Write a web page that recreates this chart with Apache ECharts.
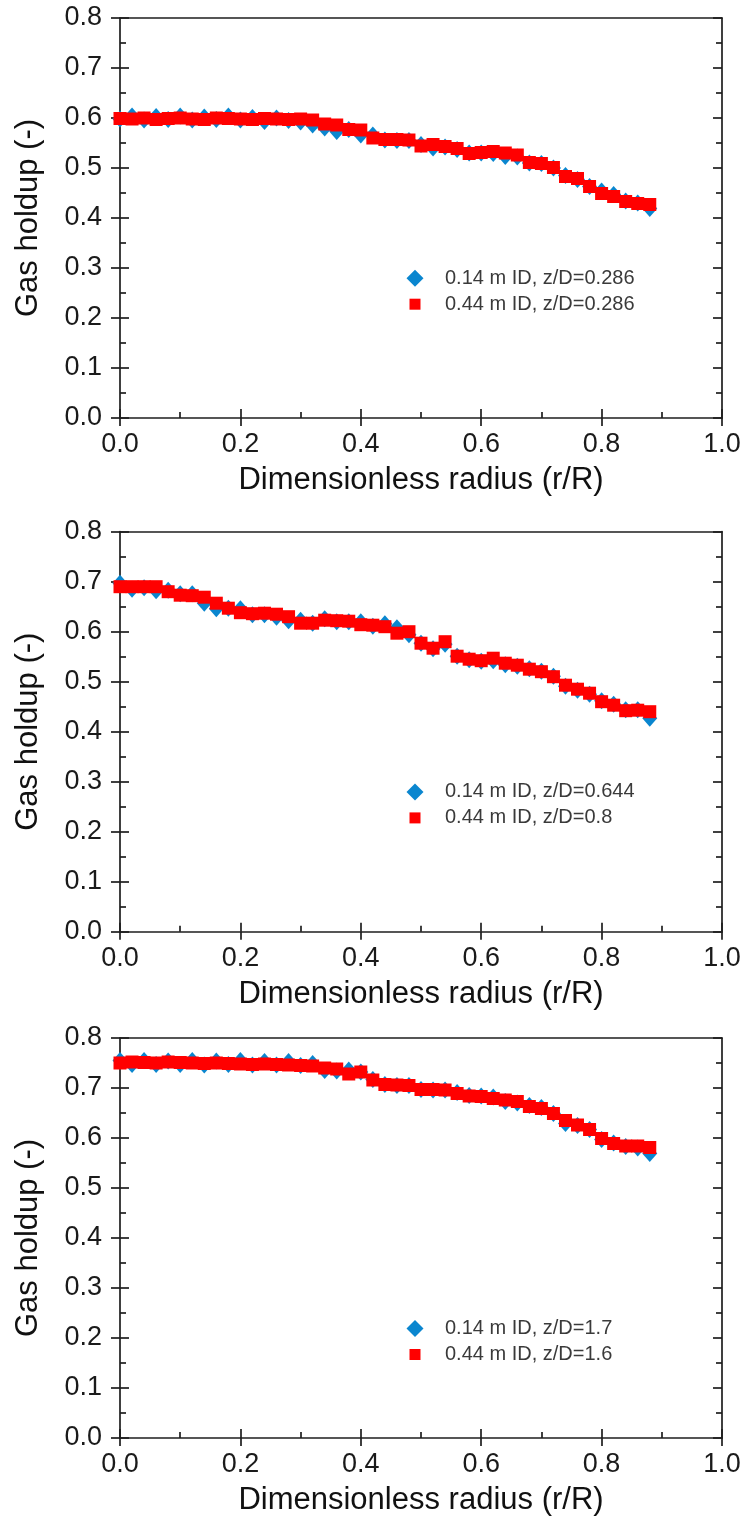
<!DOCTYPE html>
<html>
<head>
<meta charset="utf-8">
<script src="https://cdn.jsdelivr.net/npm/echarts@6/dist/echarts.min.js"></script>
<style>
html,body{margin:0;padding:0;background:#fff;}
#chart{width:744px;height:1523px;}
</style>
</head>
<body>
<div id="chart"></div>
<script>
// ---- Data ----
const radius = [0.00,0.02,0.04,0.06,0.08,0.10,0.12,0.14,0.16,0.18,0.20,0.22,0.24,0.26,0.28,0.30,0.32,0.34,0.36,0.38,0.40,0.42,0.44,0.46,0.48,0.50,0.52,0.54,0.56,0.58,0.60,0.62,0.64,0.66,0.68,0.70,0.72,0.74,0.76,0.78,0.80,0.82,0.84,0.86,0.88];

const xTicks = ['0.0','0.2','0.4','0.6','0.8','1.0'];
const yTicks = ['0.0','0.1','0.2','0.3','0.4','0.5','0.6','0.7','0.8'];

const panel1Names = ['0.14 m ID, z/D=0.286', '0.44 m ID, z/D=0.286'];
const panel2Names = ['0.14 m ID, z/D=0.644', '0.44 m ID, z/D=0.8'];
const panel3Names = ['0.14 m ID, z/D=1.7', '0.44 m ID, z/D=1.6'];

const panel1Blue = [.598,.604,.596,.603,.597,.604,.596,.602,.597,.604,
  .596,.601,.593,.600,.595,.592,.586,.580,.573,.577,
  .566,.566,.556,.555,.555,.547,.540,.542,.537,.530,
  .530,.529,.523,.522,.510,.509,.500,.485,.477,.463,
  .454,.447,.434,.430,.419];
const panel1Red = [.599,.598,.600,.597,.599,.600,.598,.597,.600,.599,
  .598,.597,.599,.598,.597,.598,.596,.588,.586,.577,
  .576,.560,.557,.557,.556,.544,.547,.543,.539,.529,
  .531,.533,.530,.526,.511,.509,.501,.483,.479,.463,
  .449,.443,.433,.429,.427];

const panel2Blue = [.697,.685,.688,.682,.683,.676,.676,.657,.646,.647,
  .646,.634,.634,.629,.622,.623,.617,.626,.620,.620,
  .620,.611,.616,.608,.594,.577,.566,.575,.551,.544,
  .541,.542,.534,.531,.526,.521,.511,.491,.483,.475,
  .462,.455,.444,.444,.427];
const panel2Red = [.690,.690,.690,.690,.680,.673,.672,.669,.657,.647,
  .638,.636,.637,.635,.630,.617,.617,.623,.622,.621,
  .614,.613,.610,.597,.600,.577,.567,.580,.551,.545,
  .542,.547,.537,.533,.525,.520,.510,.493,.485,.477,
  .460,.453,.442,.443,.440];

const panel3Blue = [.755,.747,.755,.747,.754,.747,.755,.746,.754,.747,
  .755,.746,.753,.746,.753,.745,.749,.735,.734,.736,
  .732,.717,.707,.705,.705,.697,.696,.696,.691,.685,
  .684,.682,.673,.670,.665,.661,.649,.629,.625,.617,
  .597,.590,.583,.580,.569];
const panel3Red = [.750,.752,.751,.750,.752,.751,.750,.749,.750,.749,
  .748,.747,.748,.747,.746,.745,.744,.740,.738,.728,
  .732,.716,.707,.706,.705,.697,.697,.696,.689,.684,
  .683,.679,.676,.673,.663,.659,.649,.635,.626,.617,
  .599,.589,.584,.584,.581];

const panels = [
  {names: panel1Names, blue: panel1Blue, red: panel1Red},
  {names: panel2Names, blue: panel2Blue, red: panel2Red},
  {names: panel3Names, blue: panel3Blue, red: panel3Red}
];

// ---- Layout / style ----
const gridTops = [18, 531.7, 1038];
const legendCenters = [276.7, 790.4, 1327];
const FONT = "'Liberation Sans', Arial, sans-serif";
const AX = '#1e1e1e';
const BLUE = '#0a86cf';
const RED = '#ff0000';

const chart = echarts.init(document.getElementById('chart'), null, {renderer: 'canvas'});

const grid = [], xAxis = [], yAxis = [], series = [], legend = [];
const lineStyle = {color: AX, width: 1.7};

panels.forEach((p, g) => {
  grid.push({left: 120, top: gridTops[g], width: 602, height: 400, containLabel: false});
  const xBase = {gridIndex: g, type: 'value', min: 0, max: 1, interval: 0.2, splitLine: {show: false}};
  const yBase = {gridIndex: g, type: 'value', min: 0, max: 0.8, interval: 0.1, splitLine: {show: false}};
  xAxis.push(Object.assign({}, xBase, {
    position: 'bottom',
    axisLine: {show: true, onZero: false, lineStyle},
    axisTick: {show: true, inside: false, length: 8, lineStyle},
    axisLabel: {show: true, margin: 13, fontSize: 27, color: '#1a1a1a', fontFamily: FONT,
      formatter: v => xTicks[Math.round(v / 0.2)]},
    name: 'Dimensionless radius (r/R)', nameLocation: 'middle', nameGap: 47,
    nameTextStyle: {fontSize: 31, color: '#111', fontFamily: FONT}
  }));
  xAxis.push(Object.assign({}, xBase, {
    position: 'bottom',
    axisLine: {show: false, onZero: false},
    axisTick: {show: true, inside: true, length: 9, lineStyle},
    minorTick: {show: true, splitNumber: 2, length: 6, lineStyle},
    axisLabel: {show: false}
  }));
  xAxis.push(Object.assign({}, xBase, {
    position: 'top',
    axisLine: {show: true, onZero: false, lineStyle},
    axisTick: {show: false},
    axisLabel: {show: false}
  }));
  yAxis.push(Object.assign({}, yBase, {
    position: 'left',
    axisLine: {show: true, onZero: false, lineStyle},
    axisTick: {show: true, inside: false, length: 9, lineStyle},
    axisLabel: {show: true, margin: 18, fontSize: 27, color: '#1a1a1a', fontFamily: FONT,
      formatter: v => yTicks[Math.round(v / 0.1)]},
    name: 'Gas holdup (-)', nameLocation: 'middle', nameGap: 76,
    nameTextStyle: {fontSize: 31, color: '#111', fontFamily: FONT}
  }));
  yAxis.push(Object.assign({}, yBase, {
    position: 'left',
    axisLine: {show: false, onZero: false},
    axisTick: {show: true, inside: true, length: 9, lineStyle},
    minorTick: {show: true, splitNumber: 2, length: 6, lineStyle},
    axisLabel: {show: false}
  }));
  yAxis.push(Object.assign({}, yBase, {
    position: 'right',
    axisLine: {show: true, onZero: false, lineStyle},
    axisTick: {show: true, inside: true, length: 9, lineStyle},
    minorTick: {show: true, splitNumber: 2, length: 6, lineStyle},
    axisLabel: {show: false}
  }));

  series.push({
    name: p.names[0], type: 'scatter', xAxisIndex: 3 * g, yAxisIndex: 3 * g,
    symbol: 'diamond', symbolSize: [15, 17],
    itemStyle: {color: BLUE, opacity: 1}, z: 2, silent: true,
    data: radius.map((r, i) => [r, p.blue[i]])
  });
  series.push({
    name: p.names[1], type: 'scatter', xAxisIndex: 3 * g, yAxisIndex: 3 * g,
    symbol: 'rect', symbolSize: 13,
    itemStyle: {color: RED, opacity: 1}, z: 3, silent: true,
    data: radius.map((r, i) => [r, p.red[i]])
  });

  const legendText = {fontSize: 20, color: '#3a3a3a', fontFamily: FONT, lineHeight: 10};
  legend.push({
    left: 406.5, top: legendCenters[g] - 8.5, padding: 0, orient: 'vertical',
    itemWidth: 50, itemHeight: 17, symbolKeepAspect: true, selectedMode: false,
    textStyle: legendText,
    data: [{name: p.names[0], icon: 'path://M0,-1L1,0L0,1L-1,0Z', itemStyle: {color: BLUE}}]
  });
  legend.push({
    left: 409.5, top: legendCenters[g] + 25 - 5.5 - 2, padding: 0, orient: 'vertical',
    itemWidth: 50, itemHeight: 11, symbolKeepAspect: true, selectedMode: false,
    textStyle: legendText,
    data: [{name: p.names[1], icon: 'path://M0,0L1,0L1,1L0,1Z', itemStyle: {color: RED}}]
  });
});

chart.setOption({
  animation: false,
  backgroundColor: '#fff',
  textStyle: {fontFamily: FONT},
  grid, xAxis, yAxis, series, legend
});
</script>
</body>
</html>
